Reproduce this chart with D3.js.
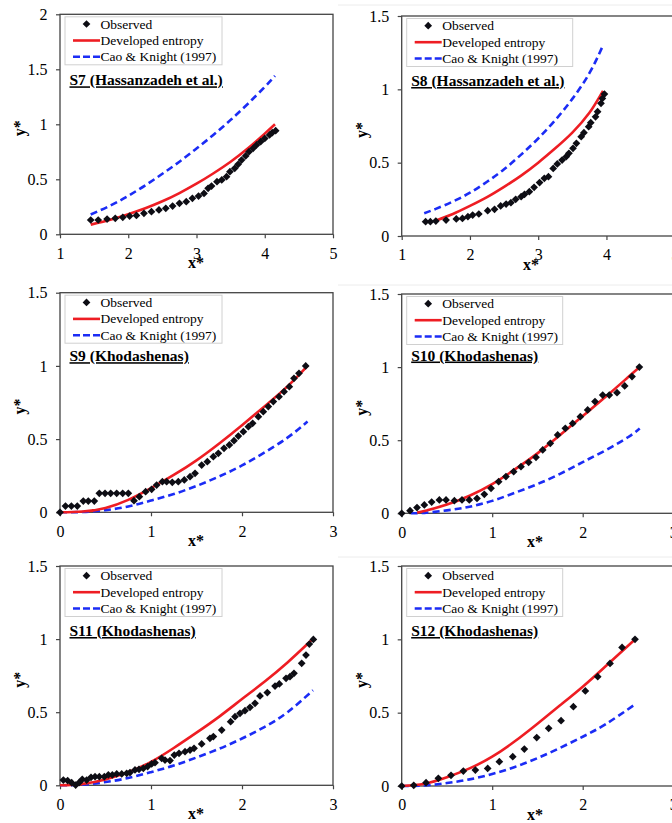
<!DOCTYPE html>
<html>
<head>
<meta charset="utf-8">
<script src="https://cdn.jsdelivr.net/npm/d3@7"></script>
<style>
  html, body { margin: 0; padding: 0; background: #fff; }
  svg { display: block; }
  text { font-family: "Liberation Serif", "Times New Roman", serif; fill: #000; }
</style>
</head>
<body>
<svg id="chart" width="672" height="823"></svg>
<script>
// ---------- data: [x*, y*] pairs ----------
const s7Observed = [[1.45,0.13],[1.56,0.13],[1.69,0.139],[1.81,0.145],[1.92,0.154],[2.02,0.166],[2.12,0.172],[2.23,0.191],[2.34,0.206],[2.45,0.221],[2.55,0.236],[2.65,0.257],[2.75,0.282],[2.85,0.297],[2.94,0.327],[3.03,0.348],[3.11,0.372],[3.17,0.418],[3.22,0.439],[3.3,0.478],[3.37,0.494],[3.44,0.524],[3.49,0.569],[3.56,0.6],[3.61,0.636],[3.66,0.675],[3.72,0.712],[3.77,0.751],[3.83,0.782],[3.88,0.812],[3.94,0.842],[4.0,0.872],[4.07,0.903],[4.11,0.924],[4.16,0.942]];
const s7Developed = [[1.45,0.088],[1.75,0.135],[2,0.183],[2.25,0.237],[2.5,0.3],[2.75,0.375],[3,0.46],[3.25,0.555],[3.5,0.66],[3.75,0.78],[4,0.915],[4.15,1.0]];
const s7Cao = [[1.45,0.18],[1.75,0.265],[2,0.35],[2.25,0.445],[2.5,0.55],[2.75,0.66],[3,0.78],[3.25,0.905],[3.5,1.04],[3.75,1.185],[4,1.34],[4.15,1.44]];

const s8Observed = [[1.35,0.098],[1.42,0.098],[1.5,0.102],[1.65,0.109],[1.8,0.116],[1.89,0.12],[1.97,0.132],[2.04,0.143],[2.13,0.15],[2.26,0.173],[2.36,0.182],[2.45,0.205],[2.53,0.218],[2.6,0.227],[2.67,0.25],[2.75,0.268],[2.8,0.284],[2.87,0.302],[2.94,0.332],[3.02,0.364],[3.09,0.393],[3.15,0.404],[3.22,0.461],[3.28,0.491],[3.35,0.518],[3.41,0.541],[3.45,0.564],[3.51,0.598],[3.56,0.632],[3.63,0.677],[3.67,0.704],[3.74,0.745],[3.77,0.773],[3.84,0.813],[3.87,0.848],[3.92,0.905],[3.94,0.938],[3.97,0.968]];
const s8Developed = [[1.5,0.105],[1.75,0.15],[2,0.205],[2.25,0.265],[2.5,0.335],[2.75,0.412],[3,0.5],[3.25,0.598],[3.5,0.705],[3.75,0.84],[3.95,0.99]];
const s8Cao = [[1.33,0.155],[1.5,0.185],[1.75,0.235],[2,0.295],[2.25,0.37],[2.5,0.455],[2.75,0.555],[3,0.665],[3.25,0.79],[3.5,0.935],[3.75,1.11],[3.95,1.3]];

const s9Observed = [[0,0],[0.06,0.043],[0.125,0.043],[0.19,0.043],[0.256,0.077],[0.311,0.077],[0.377,0.077],[0.432,0.13],[0.495,0.13],[0.557,0.13],[0.623,0.13],[0.689,0.13],[0.751,0.13],[0.813,0.079],[0.872,0.107],[0.941,0.141],[1.007,0.157],[1.062,0.186],[1.125,0.209],[1.172,0.209],[1.234,0.205],[1.3,0.209],[1.366,0.221],[1.429,0.243],[1.484,0.266],[1.557,0.323],[1.619,0.346],[1.685,0.38],[1.74,0.403],[1.802,0.437],[1.861,0.46],[1.912,0.489],[1.96,0.521],[2.015,0.551],[2.07,0.585],[2.117,0.608],[2.18,0.653],[2.234,0.687],[2.289,0.722],[2.344,0.756],[2.407,0.79],[2.462,0.824],[2.52,0.858],[2.571,0.915],[2.626,0.949],[2.7,1.0]];
const s9Developed = [[0,0],[0.25,0.005],[0.5,0.03],[0.75,0.085],[1,0.165],[1.25,0.255],[1.5,0.355],[1.75,0.47],[2,0.595],[2.25,0.725],[2.5,0.86],[2.72,1.0]];
const s9Cao = [[0,0],[0.25,0.002],[0.5,0.015],[0.75,0.04],[1,0.08],[1.25,0.125],[1.5,0.18],[1.75,0.245],[2,0.32],[2.25,0.41],[2.5,0.51],[2.72,0.62]];

const s10Observed = [[0,0],[0.092,0.018],[0.169,0.039],[0.25,0.057],[0.331,0.077],[0.416,0.091],[0.49,0.091],[0.582,0.086],[0.666,0.091],[0.747,0.091],[0.832,0.102],[0.913,0.13],[0.987,0.171],[1.071,0.216],[1.152,0.251],[1.237,0.285],[1.318,0.319],[1.403,0.349],[1.484,0.383],[1.558,0.433],[1.642,0.479],[1.723,0.536],[1.808,0.581],[1.889,0.615],[1.974,0.661],[2.055,0.707],[2.136,0.764],[2.221,0.809],[2.294,0.809],[2.379,0.825],[2.464,0.871],[2.545,0.935],[2.626,1.0]];
const s10Developed = [[0.17,0.005],[0.25,0.015],[0.5,0.06],[0.75,0.12],[1,0.2],[1.25,0.3],[1.5,0.41],[1.75,0.535],[2,0.665],[2.25,0.795],[2.5,0.93],[2.63,1.0]];
const s10Cao = [[0.1,0],[0.25,0.003],[0.5,0.02],[0.75,0.045],[1,0.085],[1.25,0.14],[1.5,0.2],[1.75,0.27],[2,0.35],[2.25,0.43],[2.5,0.52],[2.63,0.58]];

const s11Observed = [[0.037,0.036],[0.084,0.032],[0.128,0.018],[0.172,0.002],[0.209,0.018],[0.245,0.041],[0.293,0.036],[0.341,0.055],[0.385,0.059],[0.432,0.059],[0.487,0.059],[0.531,0.071],[0.575,0.071],[0.623,0.078],[0.678,0.078],[0.733,0.082],[0.769,0.087],[0.824,0.105],[0.868,0.109],[0.916,0.116],[0.963,0.128],[1.007,0.146],[1.044,0.155],[1.117,0.185],[1.154,0.173],[1.209,0.169],[1.256,0.207],[1.308,0.219],[1.374,0.23],[1.429,0.241],[1.473,0.253],[1.557,0.283],[1.648,0.321],[1.685,0.333],[1.777,0.378],[1.875,0.435],[1.923,0.469],[1.978,0.492],[2.033,0.51],[2.088,0.533],[2.143,0.561],[2.198,0.611],[2.278,0.634],[2.363,0.679],[2.41,0.693],[2.484,0.732],[2.527,0.743],[2.571,0.766],[2.656,0.834],[2.703,0.891],[2.74,0.966],[2.784,0.998]];
const s11Developed = [[0,0],[0.25,0.01],[0.5,0.04],[0.75,0.09],[1,0.16],[1.25,0.255],[1.5,0.36],[1.75,0.47],[2,0.59],[2.25,0.71],[2.5,0.84],[2.76,0.99]];
const s11Cao = [[0,0],[0.25,0.004],[0.5,0.022],[0.75,0.05],[1,0.09],[1.25,0.135],[1.5,0.19],[1.75,0.25],[2,0.32],[2.25,0.4],[2.5,0.5],[2.78,0.65]];

const s12Observed = [[0,0],[0.133,0.005],[0.269,0.023],[0.405,0.052],[0.545,0.073],[0.681,0.102],[0.814,0.109],[0.95,0.12],[1.079,0.166],[1.227,0.2],[1.355,0.252],[1.492,0.33],[1.624,0.393],[1.761,0.445],[1.897,0.541],[2.029,0.648],[2.166,0.745],[2.302,0.836],[2.435,0.945],[2.578,1.0]];
const s12Developed = [[0,0],[0.25,0.015],[0.5,0.06],[0.75,0.12],[1,0.2],[1.25,0.305],[1.5,0.425],[1.75,0.55],[2,0.677],[2.25,0.815],[2.58,1.0]];
const s12Cao = [[0,0],[0.25,0.003],[0.5,0.02],[0.75,0.045],[1,0.082],[1.25,0.13],[1.5,0.19],[1.75,0.26],[2,0.336],[2.25,0.42],[2.58,0.557]];

// ---------- tick values, titles, legend text ----------
const xTicks1to5 = [1, 2, 3, 4, 5];
const xTicks0to3 = [0, 1, 2, 3];
const yTicks0to2 = [0, 0.5, 1, 1.5, 2];
const yTicks0to15 = [0, 0.5, 1, 1.5];
const titles = ["S7 (Hassanzadeh et al.)", "S8 (Hassanzadeh et al.)", "S9 (Khodashenas)", "S10 (Khodashenas)", "S11 (Khodashenas)", "S12 (Khodashenas)"];
const legendLabels = ["Observed", "Developed entropy", "Cao & Knight (1997)"];

// ---------- panel layout ----------
const RED = "#ee1d23", BLUE = "#1b2cf5";
const panels = [
  { obs: s7Observed,  dev: s7Developed,  cao: s7Cao,  xd: [1,5], yd: [0,2],   xt: xTicks1to5, yt: yTicks0to2,  left: 60,    top: 14.3, w: 273,   h: 220,   titleDy: 71, legendW: 157, xLabelX: 196 },
  { obs: s8Observed,  dev: s8Developed,  cao: s8Cao,  xd: [1,5], yd: [0,1.5], xt: xTicks1to5, yt: yTicks0to15, left: 401.7, top: 16,   w: 273,   h: 220,   titleDy: 70, legendW: 166, xLabelX: 531 },
  { obs: s9Observed,  dev: s9Developed,  cao: s9Cao,  xd: [0,3], yd: [0,1.5], xt: xTicks0to3, yt: yTicks0to15, left: 60,    top: 292.7,w: 273,   h: 219.6, titleDy: 68.5, legendW: 157, xLabelX: 196 },
  { obs: s10Observed, dev: s10Developed, cao: s10Cao, xd: [0,3], yd: [0,1.5], xt: xTicks0to3, yt: yTicks0to15, left: 401.7, top: 294,  w: 271.5, h: 219.3, titleDy: 66.5, legendW: 156, xLabelX: 535 },
  { obs: s11Observed, dev: s11Developed, cao: s11Cao, xd: [0,3], yd: [0,1.5], xt: xTicks0to3, yt: yTicks0to15, left: 60,    top: 566,  w: 273,   h: 219.3, titleDy: 70, legendW: 157, xLabelX: 196 },
  { obs: s12Observed, dev: s12Developed, cao: s12Cao, xd: [0,3], yd: [0,1.5], xt: xTicks0to3, yt: yTicks0to15, left: 401.7, top: 566,  w: 271.5, h: 220,   titleDy: 70, legendW: 156, xLabelX: 535 }
];

const svg = d3.select("#chart");

// faint chart-area edges of the right-hand column
[5, 285, 557].forEach(yy => {
  svg.append("line").attr("x1", 338).attr("x2", 672).attr("y1", yy).attr("y2", yy)
    .attr("stroke", "#ececec").attr("stroke-width", 1);
});

const diamond = d3.symbol().type(d3.symbolSquare).size(30);

panels.forEach((p, i) => {
  const g = svg.append("g");
  const x = d3.scaleLinear().domain(p.xd).range([p.left, p.left + p.w]);
  const y = d3.scaleLinear().domain(p.yd).range([p.top + p.h, p.top]);

  // axes
  const xAxis = d3.axisBottom(x).tickValues(p.xt).tickSizeInner(4).tickSizeOuter(0).tickPadding(9).tickFormat(d3.format("~g"));
  const yAxis = d3.axisLeft(y).tickValues(p.yt).tickSizeInner(4).tickSizeOuter(0).tickPadding(8.5).tickFormat(d3.format("~g"));
  const gx = g.append("g").attr("transform", `translate(0,${p.top + p.h})`).call(xAxis);
  const gy = g.append("g").attr("transform", `translate(${p.left},0)`).call(yAxis);
  [gx, gy].forEach(a => {
    a.select(".domain").remove();
    a.selectAll(".tick line").attr("stroke", "#444").attr("stroke-width", 1.2);
    a.selectAll(".tick text").attr("font-family", '"Liberation Serif", "Times New Roman", serif')
      .attr("font-size", 16).attr("fill", "#111");
  });

  // plot frame
  g.append("rect").attr("x", p.left).attr("y", p.top).attr("width", p.w).attr("height", p.h)
    .attr("fill", "none").attr("stroke", "#444").attr("stroke-width", 1.3);

  // axis titles
  g.append("text").attr("x", p.xLabelX).attr("y", p.top + p.h + 34)
    .attr("text-anchor", "middle").attr("font-size", 16).attr("font-weight", "bold").text("x*");
  g.append("text")
    .attr("transform", `translate(${p.left - 35},${p.top + p.h / 2 + 4}) rotate(-90)`)
    .attr("text-anchor", "middle").attr("font-size", 16).attr("font-weight", "bold").text("y*");

  // curves
  const line = d3.line().x(d => x(d[0])).y(d => y(d[1])).curve(d3.curveNatural);
  g.append("path").datum(p.cao).attr("d", line).attr("fill", "none")
    .attr("stroke", BLUE).attr("stroke-width", 2.6).attr("stroke-dasharray", "7,4");
  g.append("path").datum(p.dev).attr("d", line).attr("fill", "none")
    .attr("stroke", RED).attr("stroke-width", 2.6);

  // observed points
  g.selectAll("path.obs").data(p.obs).join("path").attr("class", "obs")
    .attr("d", diamond)
    .attr("transform", d => `translate(${x(d[0])},${y(d[1])}) rotate(45)`)
    .attr("fill", "#0d0d14");

  // legend
  const lx = p.left + 5, ly = p.top + 2.5;
  g.append("rect").attr("x", lx).attr("y", ly).attr("width", p.legendW).attr("height", 48)
    .attr("fill", "#fff").attr("stroke", "#d0d0d0").attr("stroke-width", 1);
  const rowY = [ly + 11.7, ly + 28.2, ly + 44.5];
  const symX0 = p.left + 13, symX1 = p.left + 40;
  g.append("path").attr("d", diamond)
    .attr("transform", `translate(${(symX0 + symX1) / 2},${rowY[0] - 4.5}) rotate(45)`)
    .attr("fill", "#0d0d14");
  g.append("line").attr("x1", symX0).attr("x2", symX1).attr("y1", rowY[1] - 4.5).attr("y2", rowY[1] - 4.5)
    .attr("stroke", RED).attr("stroke-width", 2.6);
  g.append("line").attr("x1", symX0).attr("x2", symX1).attr("y1", rowY[2] - 4.5).attr("y2", rowY[2] - 4.5)
    .attr("stroke", BLUE).attr("stroke-width", 2.6).attr("stroke-dasharray", "7,3");
  legendLabels.forEach((t, k) => {
    g.append("text").attr("x", p.left + 40.5).attr("y", rowY[k]).attr("font-size", 13.5).text(t);
  });

  // panel title, bold and underlined
  g.append("text").attr("x", p.left + 9.5).attr("y", p.top + p.titleDy)
    .attr("font-size", 15.5).attr("font-weight", "bold").attr("text-decoration", "underline")
    .text(titles[i]);
});
</script>
</body>
</html>
